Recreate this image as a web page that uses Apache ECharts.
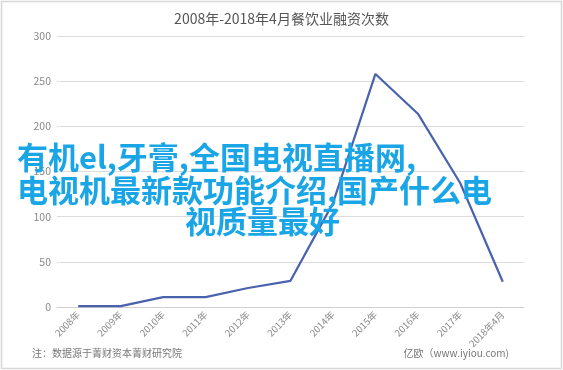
<!DOCTYPE html>
<html><head><meta charset="utf-8">
<script src="https://cdn.jsdelivr.net/npm/echarts@6/dist/echarts.min.js"></script>
<style>html,body{margin:0;padding:0;background:#fff}#c{width:563px;height:370px}</style>
</head><body><div id="c"></div>
<script>
const categories = ['2008年','2009年','2010年','2011年','2012年','2013年','2014年','2015年','2016年','2017年','2018年4月'];
const values = [1, 1, 11, 11, 21, 29, 115, 258, 214, 137, 28];
const yTicks = [0, 50, 100, 150, 200, 250, 300];
const titleText = '2008年-2018年4月餐饮业融资次数';
const overlayLines = ['有机el,牙膏,全国电视直播网,', '电视机最新款功能介绍,国产什么电', '视质量最好'];
const noteText = '注：数据源于菁财资本菁财研究院';
const sourceText = '亿欧（www.iyiou.com)';

const chart = echarts.init(document.getElementById('c'), null, {renderer: 'canvas'});
const ff = '"Noto Sans CJK SC", "Noto Sans", sans-serif';
chart.setOption({
  animation: false,
  title: {text: titleText, left: 'center', top: 7,
    textStyle: {fontSize: 14, fontWeight: 'normal', color: '#555', fontFamily: ff}},
  grid: {left: 57, right: 39, top: 36, bottom: 63},
  xAxis: {type: 'category', data: categories, boundaryGap: true,
    axisLine: {lineStyle: {color: '#d0d0d0'}}, axisTick: {show: false},
    axisLabel: {rotate: 45, fontSize: 9.5, color: '#888', fontFamily: ff, margin: 6, interval: 0}},
  yAxis: {type: 'value', min: yTicks[0], max: yTicks[yTicks.length-1], interval: 50,
    axisLine: {show: false}, axisTick: {show: false},
    axisLabel: {fontSize: 10.5, color: '#888', fontFamily: ff, margin: 6},
    splitLine: {lineStyle: {color: '#dcdcdc'}}},
  series: [{type: 'line', data: values, symbol: 'none',
    lineStyle: {color: '#4862ae', width: 2.2}}],
  graphic: [
    {type: 'rect', shape: {x: 1.5, y: 1.5, width: 560, height: 367}, style: {fill: 'none', stroke: '#d8d8d8', lineWidth: 1.5}, silent: true},
    {type: 'text', left: 32, top: 348, style: {text: noteText, fontSize: 10, fill: '#777', fontFamily: ff}},
    {type: 'text', right: 54, top: 348, style: {text: sourceText, fontSize: 10, fill: '#777', fontFamily: ff}},
    {type: 'text', x: 17, y: 157, z: 100, style: {text: overlayLines[0], fontSize: 31, fontWeight: 'bold', fill: '#1aa6e6', fontFamily: ff, textVerticalAlign: 'middle'}},
    {type: 'text', x: 17, y: 190, z: 100, style: {text: overlayLines[1], fontSize: 31, fontWeight: 'bold', fill: '#1aa6e6', fontFamily: ff, textVerticalAlign: 'middle'}},
    {type: 'text', x: 185, y: 221, z: 100, style: {text: overlayLines[2], fontSize: 31, fontWeight: 'bold', fill: '#1aa6e6', fontFamily: ff, textVerticalAlign: 'middle'}}
  ]
});
</script></body></html>
